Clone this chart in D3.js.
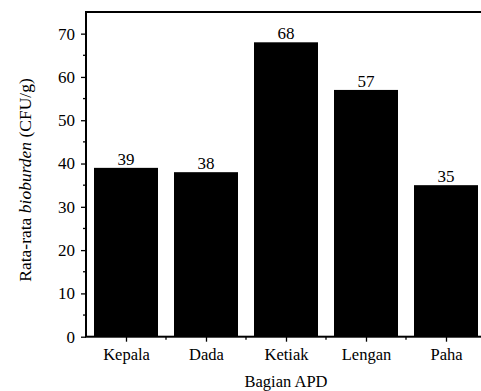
<!DOCTYPE html>
<html>
<head>
<meta charset="utf-8">
<script src="https://cdn.jsdelivr.net/npm/d3@7"></script>
<style>
html,body{margin:0;padding:0;background:#fff;}
svg{display:block;}
text{font-family:"Liberation Serif","Times New Roman",serif;fill:#000;}
</style>
</head>
<body>
<svg id="c" width="481" height="391"></svg>
<script>
const categories = ["Kepala", "Dada", "Ketiak", "Lengan", "Paha"];
const values = [39, 38, 68, 57, 35];
const yTicks = [0, 10, 20, 30, 40, 50, 60, 70];
const yMinorTicks = [5, 15, 25, 35, 45, 55, 65];
const xTitle = "Bagian APD";

const svg = d3.select("#c");
const mL = 86, mR = 486, mT = 12, mB = 336.7;

const x = d3.scaleLinear().domain([0.5, 5.5]).range([mL, mR]);
const y = d3.scaleLinear().domain([0, 75]).range([mB, mT]);

// bars
svg.append("g").selectAll("rect").data(values).join("rect")
  .attr("x", (d, i) => x(i + 1 - 0.4))
  .attr("width", (d, i) => x(i + 1 + 0.4) - x(i + 1 - 0.4))
  .attr("y", d => y(d))
  .attr("height", d => y(0) - y(d))
  .attr("fill", "#000");

// value labels
svg.append("g").selectAll("text").data(values).join("text")
  .attr("x", (d, i) => x(i + 1))
  .attr("y", d => y(d) - 3)
  .attr("text-anchor", "middle")
  .style("font-size", "17px")
  .text(d => d);

// y axis
const yAxis = d3.axisLeft(y).tickValues(yTicks).tickSize(5).tickPadding(6);
const gy = svg.append("g").attr("transform", `translate(${mL},0)`).call(yAxis);
gy.select(".domain").remove();
gy.selectAll(".tick line").attr("stroke", "#000").attr("stroke-width", 1.3);
gy.selectAll(".tick text").style("font-size", "17px").style("font-family", "Liberation Serif");
svg.append("g").selectAll("line").data(yMinorTicks).join("line")
  .attr("x1", mL - 3).attr("x2", mL)
  .attr("y1", d => y(d)).attr("y2", d => y(d))
  .attr("stroke", "#000").attr("stroke-width", 1.3);

// x axis
const xAxis = d3.axisBottom(x).tickValues(categories.map((c, i) => i + 1))
  .tickFormat((d) => categories[d - 1]).tickSize(5).tickPadding(7);
const gx = svg.append("g").attr("transform", `translate(0,${mB})`).call(xAxis);
gx.select(".domain").remove();
gx.selectAll(".tick line").attr("stroke", "#000").attr("stroke-width", 1.3);
gx.selectAll(".tick text").style("font-size", "16.5px").style("font-family", "Liberation Serif");
svg.append("g").selectAll("line").data(d3.range(1.5, 5.5, 1)).join("line")
  .attr("x1", d => x(d)).attr("x2", d => x(d))
  .attr("y1", mB).attr("y2", mB + 3)
  .attr("stroke", "#000").attr("stroke-width", 1.3);

// frame
svg.append("rect").attr("x", mL).attr("y", mT)
  .attr("width", mR - mL).attr("height", mB - mT)
  .attr("fill", "none").attr("stroke", "#000").attr("stroke-width", 2);

// axis titles
svg.append("text").attr("x", 286).attr("y", 386.5)
  .attr("text-anchor", "middle").style("font-size", "16.5px").text(xTitle);

const yt = svg.append("text")
  .attr("transform", `translate(31,180) rotate(-90)`)
  .attr("text-anchor", "middle").style("font-size", "17.5px");
yt.append("tspan").text("Rata-rata ");
yt.append("tspan").style("font-style", "italic").text("bioburden");
yt.append("tspan").text(" (CFU/g)");
</script>
</body>
</html>
